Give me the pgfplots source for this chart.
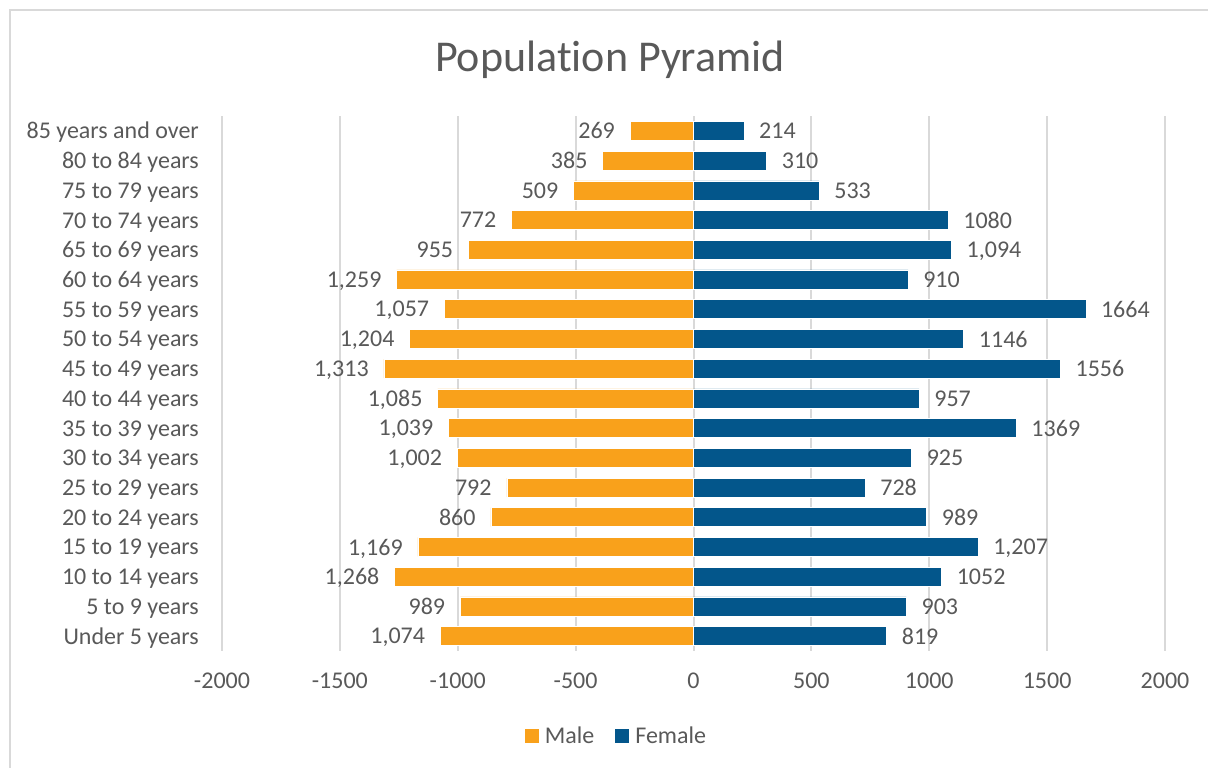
\documentclass[border=0pt]{standalone}
\usepackage{pgfplots}
\pgfplotsset{compat=1.18}
\usepackage{pgfplotstable}
\usepackage{fontspec}
\setmainfont{Carlito}[Ligatures={NoCommon}]

\definecolor{malec}{HTML}{F9A11B}
\definecolor{femalec}{HTML}{03568B}
\definecolor{txt}{HTML}{595959}
\definecolor{gridc}{HTML}{D9D9D9}

\newcommand{\lblfont}{\fontsize{24}{28}\selectfont}

\pgfplotsset{
  sqlegend/.style={legend image code/.code={\fill[##1,draw=none] (0pt,-7pt) rectangle (14pt,7pt);}},
}

% y = row (0 = Under 5 years), male stored negative, labels as printed
\pgfplotstableread{
y male mlab female flab
0 -1074 1,074 819 819
1 -989 989 903 903
2 -1268 1,268 1052 1052
3 -1169 1,169 1207 1,207
4 -860 860 989 989
5 -792 792 728 728
6 -1002 1,002 925 925
7 -1039 1,039 1369 1369
8 -1085 1,085 957 957
9 -1313 1,313 1556 1556
10 -1204 1,204 1146 1146
11 -1057 1,057 1664 1664
12 -1259 1,259 910 910
13 -955 955 1094 1,094
14 -772 772 1080 1080
15 -509 509 533 533
16 -385 385 310 310
17 -269 269 214 214
}\pyr

\begin{document}
\begin{tikzpicture}
\useasboundingbox (0pt,0pt) rectangle (1208pt,768pt);
\draw[gridc, line width=1.5pt] (10pt,-20pt) rectangle (1230pt,758pt);
\node[font=\fontsize{44}{52}\selectfont, text=txt, anchor=base] at (610pt,696pt) {Population Pyramid};

\begin{axis}[
  at={(222pt,117pt)}, anchor=south west,
  scale only axis, width=943pt, height=535pt,
  xmin=-2000, xmax=2000, ymin=-0.5, ymax=17.5,
  xtick={-2000,-1500,...,2000},
  xticklabels={-2000,-1500,-1000,-500,0,500,1000,1500,2000},
  ytick={0,...,17},
  yticklabels={Under 5 years,5 to 9 years,10 to 14 years,15 to 19 years,20 to 24 years,25 to 29 years,30 to 34 years,35 to 39 years,40 to 44 years,45 to 49 years,50 to 54 years,55 to 59 years,60 to 64 years,65 to 69 years,70 to 74 years,75 to 79 years,80 to 84 years,85 years and over},
  axis line style={draw=none},
  major tick length=0pt,
  xmajorgrids,
  grid style={gridc, line width=2pt},
  tick label style={font=\lblfont, text=txt},
  xticklabel style={anchor=base, yshift=-38pt},
  yticklabel style={anchor=base east, xshift=-23pt, yshift=-8pt, inner sep=0pt},
  legend style={at={(0.4183,-0.1589)}, anchor=center, draw=none, fill=none,
    font=\lblfont, text=txt, legend columns=2,
    /tikz/every odd column/.append style={column sep=4pt},
    /tikz/every even column/.append style={column sep=19pt}},
]
\addplot[xbar, sqlegend, bar width=19pt, bar shift=0pt, fill=malec, draw=white, line width=0.5pt,
  point meta=explicit symbolic, nodes near coords, nodes near coords align={left},
  every node near coord/.append style={font=\lblfont, text=txt, inner sep=0pt, text depth=0pt, xshift=-15pt}]
  table[x=male, y=y, meta=mlab] {\pyr};
\addlegendentry{Male}
\addplot[xbar, sqlegend, bar width=19pt, bar shift=0pt, fill=femalec, draw=white, line width=0.5pt,
  point meta=explicit symbolic, nodes near coords, nodes near coords align={right},
  every node near coord/.append style={font=\lblfont, text=txt, inner sep=0pt, text depth=0pt, xshift=15pt}]
  table[x=female, y=y, meta=flab] {\pyr};
\addlegendentry{Female}
\end{axis}
\end{tikzpicture}
\end{document}
